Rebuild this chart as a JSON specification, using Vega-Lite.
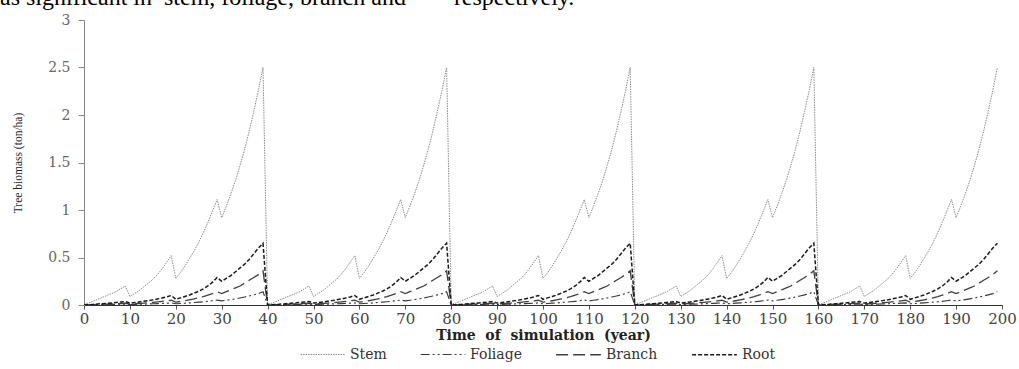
{
  "$schema": "https://vega.github.io/schema/vega-lite/v6.json",
  "width": 918,
  "height": 285,
  "autosize": {"type": "none"},
  "padding": {"left": 84, "top": 20, "right": 17, "bottom": 64},
  "background": "white",
  "title": {
    "text": "as significant in \u00a0stem, foliage, branch and \u00a0\u00a0\u00a0\u00a0\u00a0\u00a0 respectively.",
    "anchor": "start",
    "frame": "group",
    "orient": "top",
    "font": "Liberation Serif",
    "fontSize": 24,
    "fontWeight": "normal",
    "color": "#000000",
    "baseline": "alphabetic",
    "dx": -84,
    "dy": 16,
    "offset": 0
  },
  "config": {
    "view": {"stroke": null},
    "font": "DejaVu Serif"
  },
  "data": {
    "values": [
      {"year":0,"Stem":0.01,"Foliage":0,"Branch":0,"Root":0},
      {"year":1,"Stem":0.02,"Foliage":0.001,"Branch":0.002,"Root":0.003},
      {"year":2,"Stem":0.04,"Foliage":0.002,"Branch":0.004,"Root":0.006},
      {"year":3,"Stem":0.06,"Foliage":0.003,"Branch":0.006,"Root":0.01},
      {"year":4,"Stem":0.08,"Foliage":0.004,"Branch":0.008,"Root":0.014},
      {"year":5,"Stem":0.10,"Foliage":0.005,"Branch":0.01,"Root":0.018},
      {"year":6,"Stem":0.12,"Foliage":0.006,"Branch":0.012,"Root":0.022},
      {"year":7,"Stem":0.14,"Foliage":0.007,"Branch":0.014,"Root":0.027},
      {"year":8,"Stem":0.17,"Foliage":0.008,"Branch":0.016,"Root":0.031},
      {"year":9,"Stem":0.20,"Foliage":0.009,"Branch":0.018,"Root":0.036},
      {"year":10,"Stem":0.09,"Foliage":0.005,"Branch":0.01,"Root":0.02},
      {"year":11,"Stem":0.12,"Foliage":0.006,"Branch":0.013,"Root":0.026},
      {"year":12,"Stem":0.15,"Foliage":0.008,"Branch":0.016,"Root":0.032},
      {"year":13,"Stem":0.19,"Foliage":0.009,"Branch":0.02,"Root":0.039},
      {"year":14,"Stem":0.23,"Foliage":0.011,"Branch":0.024,"Root":0.046},
      {"year":15,"Stem":0.27,"Foliage":0.013,"Branch":0.028,"Root":0.054},
      {"year":16,"Stem":0.32,"Foliage":0.015,"Branch":0.033,"Root":0.063},
      {"year":17,"Stem":0.38,"Foliage":0.017,"Branch":0.038,"Root":0.073},
      {"year":18,"Stem":0.45,"Foliage":0.019,"Branch":0.044,"Root":0.085},
      {"year":19,"Stem":0.52,"Foliage":0.022,"Branch":0.05,"Root":0.1},
      {"year":20,"Stem":0.28,"Foliage":0.013,"Branch":0.03,"Root":0.06},
      {"year":21,"Stem":0.34,"Foliage":0.016,"Branch":0.037,"Root":0.075},
      {"year":22,"Stem":0.41,"Foliage":0.019,"Branch":0.045,"Root":0.09},
      {"year":23,"Stem":0.49,"Foliage":0.022,"Branch":0.054,"Root":0.105},
      {"year":24,"Stem":0.57,"Foliage":0.026,"Branch":0.064,"Root":0.125},
      {"year":25,"Stem":0.66,"Foliage":0.03,"Branch":0.076,"Root":0.145},
      {"year":26,"Stem":0.76,"Foliage":0.034,"Branch":0.089,"Root":0.17},
      {"year":27,"Stem":0.87,"Foliage":0.039,"Branch":0.104,"Root":0.2},
      {"year":28,"Stem":0.99,"Foliage":0.045,"Branch":0.12,"Root":0.24},
      {"year":29,"Stem":1.11,"Foliage":0.052,"Branch":0.14,"Root":0.29},
      {"year":30,"Stem":0.92,"Foliage":0.043,"Branch":0.12,"Root":0.25},
      {"year":31,"Stem":1.04,"Foliage":0.05,"Branch":0.14,"Root":0.28},
      {"year":32,"Stem":1.17,"Foliage":0.057,"Branch":0.16,"Root":0.31},
      {"year":33,"Stem":1.31,"Foliage":0.065,"Branch":0.18,"Root":0.35},
      {"year":34,"Stem":1.47,"Foliage":0.074,"Branch":0.2,"Root":0.39},
      {"year":35,"Stem":1.64,"Foliage":0.084,"Branch":0.23,"Root":0.43},
      {"year":36,"Stem":1.83,"Foliage":0.095,"Branch":0.26,"Root":0.48},
      {"year":37,"Stem":2.04,"Foliage":0.107,"Branch":0.29,"Root":0.54},
      {"year":38,"Stem":2.26,"Foliage":0.12,"Branch":0.32,"Root":0.6},
      {"year":39,"Stem":2.5,"Foliage":0.14,"Branch":0.36,"Root":0.65},
      {"year":40,"Stem":0.01,"Foliage":0,"Branch":0,"Root":0},
      {"year":41,"Stem":0.02,"Foliage":0.001,"Branch":0.002,"Root":0.003},
      {"year":42,"Stem":0.04,"Foliage":0.002,"Branch":0.004,"Root":0.006},
      {"year":43,"Stem":0.06,"Foliage":0.003,"Branch":0.006,"Root":0.01},
      {"year":44,"Stem":0.08,"Foliage":0.004,"Branch":0.008,"Root":0.014},
      {"year":45,"Stem":0.10,"Foliage":0.005,"Branch":0.01,"Root":0.018},
      {"year":46,"Stem":0.12,"Foliage":0.006,"Branch":0.012,"Root":0.022},
      {"year":47,"Stem":0.14,"Foliage":0.007,"Branch":0.014,"Root":0.027},
      {"year":48,"Stem":0.17,"Foliage":0.008,"Branch":0.016,"Root":0.031},
      {"year":49,"Stem":0.20,"Foliage":0.009,"Branch":0.018,"Root":0.036},
      {"year":50,"Stem":0.09,"Foliage":0.005,"Branch":0.01,"Root":0.02},
      {"year":51,"Stem":0.12,"Foliage":0.006,"Branch":0.013,"Root":0.026},
      {"year":52,"Stem":0.15,"Foliage":0.008,"Branch":0.016,"Root":0.032},
      {"year":53,"Stem":0.19,"Foliage":0.009,"Branch":0.02,"Root":0.039},
      {"year":54,"Stem":0.23,"Foliage":0.011,"Branch":0.024,"Root":0.046},
      {"year":55,"Stem":0.27,"Foliage":0.013,"Branch":0.028,"Root":0.054},
      {"year":56,"Stem":0.32,"Foliage":0.015,"Branch":0.033,"Root":0.063},
      {"year":57,"Stem":0.38,"Foliage":0.017,"Branch":0.038,"Root":0.073},
      {"year":58,"Stem":0.45,"Foliage":0.019,"Branch":0.044,"Root":0.085},
      {"year":59,"Stem":0.52,"Foliage":0.022,"Branch":0.05,"Root":0.1},
      {"year":60,"Stem":0.28,"Foliage":0.013,"Branch":0.03,"Root":0.06},
      {"year":61,"Stem":0.34,"Foliage":0.016,"Branch":0.037,"Root":0.075},
      {"year":62,"Stem":0.41,"Foliage":0.019,"Branch":0.045,"Root":0.09},
      {"year":63,"Stem":0.49,"Foliage":0.022,"Branch":0.054,"Root":0.105},
      {"year":64,"Stem":0.57,"Foliage":0.026,"Branch":0.064,"Root":0.125},
      {"year":65,"Stem":0.66,"Foliage":0.03,"Branch":0.076,"Root":0.145},
      {"year":66,"Stem":0.76,"Foliage":0.034,"Branch":0.089,"Root":0.17},
      {"year":67,"Stem":0.87,"Foliage":0.039,"Branch":0.104,"Root":0.2},
      {"year":68,"Stem":0.99,"Foliage":0.045,"Branch":0.12,"Root":0.24},
      {"year":69,"Stem":1.11,"Foliage":0.052,"Branch":0.14,"Root":0.29},
      {"year":70,"Stem":0.92,"Foliage":0.043,"Branch":0.12,"Root":0.25},
      {"year":71,"Stem":1.04,"Foliage":0.05,"Branch":0.14,"Root":0.28},
      {"year":72,"Stem":1.17,"Foliage":0.057,"Branch":0.16,"Root":0.31},
      {"year":73,"Stem":1.31,"Foliage":0.065,"Branch":0.18,"Root":0.35},
      {"year":74,"Stem":1.47,"Foliage":0.074,"Branch":0.2,"Root":0.39},
      {"year":75,"Stem":1.64,"Foliage":0.084,"Branch":0.23,"Root":0.43},
      {"year":76,"Stem":1.83,"Foliage":0.095,"Branch":0.26,"Root":0.48},
      {"year":77,"Stem":2.04,"Foliage":0.107,"Branch":0.29,"Root":0.54},
      {"year":78,"Stem":2.26,"Foliage":0.12,"Branch":0.32,"Root":0.6},
      {"year":79,"Stem":2.5,"Foliage":0.14,"Branch":0.36,"Root":0.65},
      {"year":80,"Stem":0.01,"Foliage":0,"Branch":0,"Root":0},
      {"year":81,"Stem":0.02,"Foliage":0.001,"Branch":0.002,"Root":0.003},
      {"year":82,"Stem":0.04,"Foliage":0.002,"Branch":0.004,"Root":0.006},
      {"year":83,"Stem":0.06,"Foliage":0.003,"Branch":0.006,"Root":0.01},
      {"year":84,"Stem":0.08,"Foliage":0.004,"Branch":0.008,"Root":0.014},
      {"year":85,"Stem":0.10,"Foliage":0.005,"Branch":0.01,"Root":0.018},
      {"year":86,"Stem":0.12,"Foliage":0.006,"Branch":0.012,"Root":0.022},
      {"year":87,"Stem":0.14,"Foliage":0.007,"Branch":0.014,"Root":0.027},
      {"year":88,"Stem":0.17,"Foliage":0.008,"Branch":0.016,"Root":0.031},
      {"year":89,"Stem":0.20,"Foliage":0.009,"Branch":0.018,"Root":0.036},
      {"year":90,"Stem":0.09,"Foliage":0.005,"Branch":0.01,"Root":0.02},
      {"year":91,"Stem":0.12,"Foliage":0.006,"Branch":0.013,"Root":0.026},
      {"year":92,"Stem":0.15,"Foliage":0.008,"Branch":0.016,"Root":0.032},
      {"year":93,"Stem":0.19,"Foliage":0.009,"Branch":0.02,"Root":0.039},
      {"year":94,"Stem":0.23,"Foliage":0.011,"Branch":0.024,"Root":0.046},
      {"year":95,"Stem":0.27,"Foliage":0.013,"Branch":0.028,"Root":0.054},
      {"year":96,"Stem":0.32,"Foliage":0.015,"Branch":0.033,"Root":0.063},
      {"year":97,"Stem":0.38,"Foliage":0.017,"Branch":0.038,"Root":0.073},
      {"year":98,"Stem":0.45,"Foliage":0.019,"Branch":0.044,"Root":0.085},
      {"year":99,"Stem":0.52,"Foliage":0.022,"Branch":0.05,"Root":0.1},
      {"year":100,"Stem":0.28,"Foliage":0.013,"Branch":0.03,"Root":0.06},
      {"year":101,"Stem":0.34,"Foliage":0.016,"Branch":0.037,"Root":0.075},
      {"year":102,"Stem":0.41,"Foliage":0.019,"Branch":0.045,"Root":0.09},
      {"year":103,"Stem":0.49,"Foliage":0.022,"Branch":0.054,"Root":0.105},
      {"year":104,"Stem":0.57,"Foliage":0.026,"Branch":0.064,"Root":0.125},
      {"year":105,"Stem":0.66,"Foliage":0.03,"Branch":0.076,"Root":0.145},
      {"year":106,"Stem":0.76,"Foliage":0.034,"Branch":0.089,"Root":0.17},
      {"year":107,"Stem":0.87,"Foliage":0.039,"Branch":0.104,"Root":0.2},
      {"year":108,"Stem":0.99,"Foliage":0.045,"Branch":0.12,"Root":0.24},
      {"year":109,"Stem":1.11,"Foliage":0.052,"Branch":0.14,"Root":0.29},
      {"year":110,"Stem":0.92,"Foliage":0.043,"Branch":0.12,"Root":0.25},
      {"year":111,"Stem":1.04,"Foliage":0.05,"Branch":0.14,"Root":0.28},
      {"year":112,"Stem":1.17,"Foliage":0.057,"Branch":0.16,"Root":0.31},
      {"year":113,"Stem":1.31,"Foliage":0.065,"Branch":0.18,"Root":0.35},
      {"year":114,"Stem":1.47,"Foliage":0.074,"Branch":0.2,"Root":0.39},
      {"year":115,"Stem":1.64,"Foliage":0.084,"Branch":0.23,"Root":0.43},
      {"year":116,"Stem":1.83,"Foliage":0.095,"Branch":0.26,"Root":0.48},
      {"year":117,"Stem":2.04,"Foliage":0.107,"Branch":0.29,"Root":0.54},
      {"year":118,"Stem":2.26,"Foliage":0.12,"Branch":0.32,"Root":0.6},
      {"year":119,"Stem":2.5,"Foliage":0.14,"Branch":0.36,"Root":0.65},
      {"year":120,"Stem":0.01,"Foliage":0,"Branch":0,"Root":0},
      {"year":121,"Stem":0.02,"Foliage":0.001,"Branch":0.002,"Root":0.003},
      {"year":122,"Stem":0.04,"Foliage":0.002,"Branch":0.004,"Root":0.006},
      {"year":123,"Stem":0.06,"Foliage":0.003,"Branch":0.006,"Root":0.01},
      {"year":124,"Stem":0.08,"Foliage":0.004,"Branch":0.008,"Root":0.014},
      {"year":125,"Stem":0.10,"Foliage":0.005,"Branch":0.01,"Root":0.018},
      {"year":126,"Stem":0.12,"Foliage":0.006,"Branch":0.012,"Root":0.022},
      {"year":127,"Stem":0.14,"Foliage":0.007,"Branch":0.014,"Root":0.027},
      {"year":128,"Stem":0.17,"Foliage":0.008,"Branch":0.016,"Root":0.031},
      {"year":129,"Stem":0.20,"Foliage":0.009,"Branch":0.018,"Root":0.036},
      {"year":130,"Stem":0.09,"Foliage":0.005,"Branch":0.01,"Root":0.02},
      {"year":131,"Stem":0.12,"Foliage":0.006,"Branch":0.013,"Root":0.026},
      {"year":132,"Stem":0.15,"Foliage":0.008,"Branch":0.016,"Root":0.032},
      {"year":133,"Stem":0.19,"Foliage":0.009,"Branch":0.02,"Root":0.039},
      {"year":134,"Stem":0.23,"Foliage":0.011,"Branch":0.024,"Root":0.046},
      {"year":135,"Stem":0.27,"Foliage":0.013,"Branch":0.028,"Root":0.054},
      {"year":136,"Stem":0.32,"Foliage":0.015,"Branch":0.033,"Root":0.063},
      {"year":137,"Stem":0.38,"Foliage":0.017,"Branch":0.038,"Root":0.073},
      {"year":138,"Stem":0.45,"Foliage":0.019,"Branch":0.044,"Root":0.085},
      {"year":139,"Stem":0.52,"Foliage":0.022,"Branch":0.05,"Root":0.1},
      {"year":140,"Stem":0.28,"Foliage":0.013,"Branch":0.03,"Root":0.06},
      {"year":141,"Stem":0.34,"Foliage":0.016,"Branch":0.037,"Root":0.075},
      {"year":142,"Stem":0.41,"Foliage":0.019,"Branch":0.045,"Root":0.09},
      {"year":143,"Stem":0.49,"Foliage":0.022,"Branch":0.054,"Root":0.105},
      {"year":144,"Stem":0.57,"Foliage":0.026,"Branch":0.064,"Root":0.125},
      {"year":145,"Stem":0.66,"Foliage":0.03,"Branch":0.076,"Root":0.145},
      {"year":146,"Stem":0.76,"Foliage":0.034,"Branch":0.089,"Root":0.17},
      {"year":147,"Stem":0.87,"Foliage":0.039,"Branch":0.104,"Root":0.2},
      {"year":148,"Stem":0.99,"Foliage":0.045,"Branch":0.12,"Root":0.24},
      {"year":149,"Stem":1.11,"Foliage":0.052,"Branch":0.14,"Root":0.29},
      {"year":150,"Stem":0.92,"Foliage":0.043,"Branch":0.12,"Root":0.25},
      {"year":151,"Stem":1.04,"Foliage":0.05,"Branch":0.14,"Root":0.28},
      {"year":152,"Stem":1.17,"Foliage":0.057,"Branch":0.16,"Root":0.31},
      {"year":153,"Stem":1.31,"Foliage":0.065,"Branch":0.18,"Root":0.35},
      {"year":154,"Stem":1.47,"Foliage":0.074,"Branch":0.2,"Root":0.39},
      {"year":155,"Stem":1.64,"Foliage":0.084,"Branch":0.23,"Root":0.43},
      {"year":156,"Stem":1.83,"Foliage":0.095,"Branch":0.26,"Root":0.48},
      {"year":157,"Stem":2.04,"Foliage":0.107,"Branch":0.29,"Root":0.54},
      {"year":158,"Stem":2.26,"Foliage":0.12,"Branch":0.32,"Root":0.6},
      {"year":159,"Stem":2.5,"Foliage":0.14,"Branch":0.36,"Root":0.65},
      {"year":160,"Stem":0.01,"Foliage":0,"Branch":0,"Root":0},
      {"year":161,"Stem":0.02,"Foliage":0.001,"Branch":0.002,"Root":0.003},
      {"year":162,"Stem":0.04,"Foliage":0.002,"Branch":0.004,"Root":0.006},
      {"year":163,"Stem":0.06,"Foliage":0.003,"Branch":0.006,"Root":0.01},
      {"year":164,"Stem":0.08,"Foliage":0.004,"Branch":0.008,"Root":0.014},
      {"year":165,"Stem":0.10,"Foliage":0.005,"Branch":0.01,"Root":0.018},
      {"year":166,"Stem":0.12,"Foliage":0.006,"Branch":0.012,"Root":0.022},
      {"year":167,"Stem":0.14,"Foliage":0.007,"Branch":0.014,"Root":0.027},
      {"year":168,"Stem":0.17,"Foliage":0.008,"Branch":0.016,"Root":0.031},
      {"year":169,"Stem":0.20,"Foliage":0.009,"Branch":0.018,"Root":0.036},
      {"year":170,"Stem":0.09,"Foliage":0.005,"Branch":0.01,"Root":0.02},
      {"year":171,"Stem":0.12,"Foliage":0.006,"Branch":0.013,"Root":0.026},
      {"year":172,"Stem":0.15,"Foliage":0.008,"Branch":0.016,"Root":0.032},
      {"year":173,"Stem":0.19,"Foliage":0.009,"Branch":0.02,"Root":0.039},
      {"year":174,"Stem":0.23,"Foliage":0.011,"Branch":0.024,"Root":0.046},
      {"year":175,"Stem":0.27,"Foliage":0.013,"Branch":0.028,"Root":0.054},
      {"year":176,"Stem":0.32,"Foliage":0.015,"Branch":0.033,"Root":0.063},
      {"year":177,"Stem":0.38,"Foliage":0.017,"Branch":0.038,"Root":0.073},
      {"year":178,"Stem":0.45,"Foliage":0.019,"Branch":0.044,"Root":0.085},
      {"year":179,"Stem":0.52,"Foliage":0.022,"Branch":0.05,"Root":0.1},
      {"year":180,"Stem":0.28,"Foliage":0.013,"Branch":0.03,"Root":0.06},
      {"year":181,"Stem":0.34,"Foliage":0.016,"Branch":0.037,"Root":0.075},
      {"year":182,"Stem":0.41,"Foliage":0.019,"Branch":0.045,"Root":0.09},
      {"year":183,"Stem":0.49,"Foliage":0.022,"Branch":0.054,"Root":0.105},
      {"year":184,"Stem":0.57,"Foliage":0.026,"Branch":0.064,"Root":0.125},
      {"year":185,"Stem":0.66,"Foliage":0.03,"Branch":0.076,"Root":0.145},
      {"year":186,"Stem":0.76,"Foliage":0.034,"Branch":0.089,"Root":0.17},
      {"year":187,"Stem":0.87,"Foliage":0.039,"Branch":0.104,"Root":0.2},
      {"year":188,"Stem":0.99,"Foliage":0.045,"Branch":0.12,"Root":0.24},
      {"year":189,"Stem":1.11,"Foliage":0.052,"Branch":0.14,"Root":0.29},
      {"year":190,"Stem":0.92,"Foliage":0.043,"Branch":0.12,"Root":0.25},
      {"year":191,"Stem":1.04,"Foliage":0.05,"Branch":0.14,"Root":0.28},
      {"year":192,"Stem":1.17,"Foliage":0.057,"Branch":0.16,"Root":0.31},
      {"year":193,"Stem":1.31,"Foliage":0.065,"Branch":0.18,"Root":0.35},
      {"year":194,"Stem":1.47,"Foliage":0.074,"Branch":0.2,"Root":0.39},
      {"year":195,"Stem":1.64,"Foliage":0.084,"Branch":0.23,"Root":0.43},
      {"year":196,"Stem":1.83,"Foliage":0.095,"Branch":0.26,"Root":0.48},
      {"year":197,"Stem":2.04,"Foliage":0.107,"Branch":0.29,"Root":0.54},
      {"year":198,"Stem":2.26,"Foliage":0.12,"Branch":0.32,"Root":0.6},
      {"year":199,"Stem":2.5,"Foliage":0.14,"Branch":0.36,"Root":0.65}
    ]
  },
  "transform": [
    {"fold": ["Stem", "Foliage", "Branch", "Root"], "as": ["series", "value"]}
  ],
  "mark": {"type": "line", "clip": true},
  "encoding": {
    "x": {
      "field": "year",
      "type": "quantitative",
      "scale": {"domain": [0, 200], "nice": false},
      "axis": {
        "values": [0,10,20,30,40,50,60,70,80,90,100,110,120,130,140,150,160,170,180,190,200],
        "title": "Time\u00a0\u00a0of\u00a0\u00a0simulation\u00a0\u00a0(year)",
        "titleFont": "DejaVu Serif",
        "titleFontSize": 14,
        "titleFontWeight": "bold",
        "titleColor": "#222222",
        "titlePadding": 2,
        "labelFont": "DejaVu Serif",
        "labelFontSize": 15,
        "labelColor": "#444444",
        "labelPadding": 2,
        "labelFlush": false,
        "labelOverlap": false,
        "domainColor": "#333333",
        "tickColor": "#555555",
        "tickSize": 4,
        "grid": false
      }
    },
    "y": {
      "field": "value",
      "type": "quantitative",
      "scale": {"domain": [0, 3], "nice": false},
      "axis": {
        "values": [0, 0.5, 1, 1.5, 2, 2.5, 3],
        "format": ".1~f",
        "title": "Tree biomass (ton/ha)",
        "titleFont": "Liberation Serif",
        "titleFontSize": 11.5,
        "titleFontWeight": "normal",
        "titleColor": "#222222",
        "titlePadding": 24,
        "labelFont": "DejaVu Serif",
        "labelFontSize": 14,
        "labelColor": "#666666",
        "labelPadding": 8,
        "domainColor": "#888888",
        "tickColor": "#888888",
        "tickSize": 6,
        "grid": false
      }
    },
    "color": {
      "field": "series",
      "type": "nominal",
      "scale": {
        "domain": ["Stem", "Foliage", "Branch", "Root"],
        "range": ["#8c8c8c", "#3a3a3a", "#404040", "#1a1a1a"]
      },
      "legend": {
        "title": null,
        "orient": "none",
        "legendX": 216,
        "legendY": 311,
        "direction": "horizontal",
        "symbolType": "stroke",
        "symbolSize": 2000,
        "labelFont": "DejaVu Serif",
        "labelFontSize": 14,
        "labelColor": "#333333",
        "labelOffset": 4,
        "columnPadding": 31
      }
    },
    "strokeDash": {
      "field": "series",
      "type": "nominal",
      "scale": {
        "domain": ["Stem", "Foliage", "Branch", "Root"],
        "range": [[1.5, 1], [9, 3, 2, 3, 2, 3], [12, 5], [4, 2]]
      },
      "legend": {
        "title": null,
        "orient": "none",
        "legendX": 216,
        "legendY": 311,
        "direction": "horizontal",
        "symbolType": "stroke",
        "symbolSize": 2000,
        "labelFont": "DejaVu Serif",
        "labelFontSize": 14,
        "labelColor": "#333333",
        "labelOffset": 4,
        "columnPadding": 31
      }
    },
    "strokeWidth": {
      "field": "series",
      "type": "nominal",
      "scale": {
        "domain": ["Stem", "Foliage", "Branch", "Root"],
        "range": [1, 1.5, 2, 2.2]
      },
      "legend": {
        "title": null,
        "orient": "none",
        "legendX": 216,
        "legendY": 311,
        "direction": "horizontal",
        "symbolType": "stroke",
        "symbolSize": 2000,
        "labelFont": "DejaVu Serif",
        "labelFontSize": 14,
        "labelColor": "#333333",
        "labelOffset": 4,
        "columnPadding": 31
      }
    }
  }
}
